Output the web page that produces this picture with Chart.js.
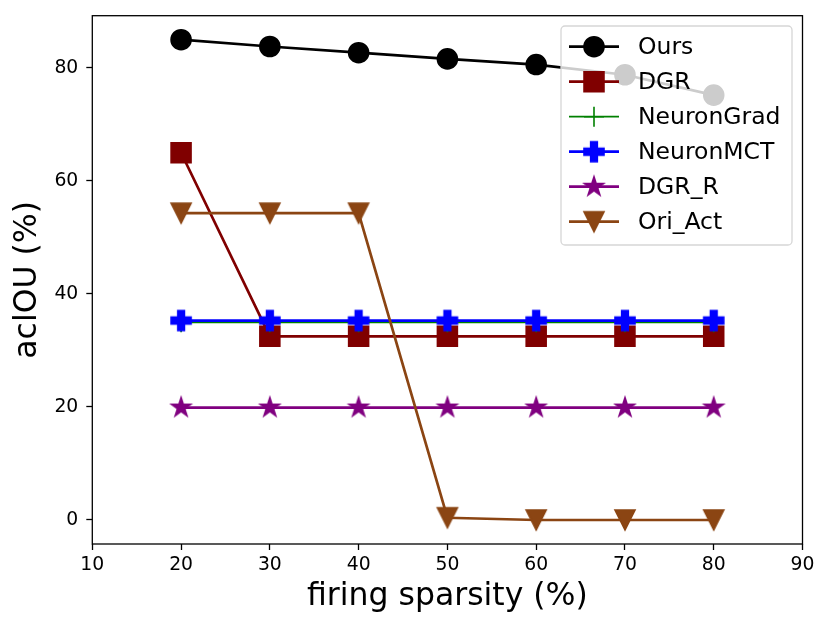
<!DOCTYPE html>
<html>
<head>
<meta charset="utf-8">
<script src="https://cdn.jsdelivr.net/npm/chart.js@4.4.1/dist/chart.umd.min.js"></script>
<style>
  html, body { margin: 0; padding: 0; background: #fff; }
  #wrap { width: 831px; height: 631px; }
</style>
</head>
<body>
<div id="wrap"><canvas id="grafica"></canvas></div>
<script>
// datos
const sparsity   = [20, 30, 40, 50, 60, 70, 80];
const ours       = [85.0, 83.8, 82.7, 81.6, 80.6, 78.8, 75.2];
const dgr        = [65.0, 32.5, 32.5, 32.5, 32.5, 32.5, 32.5];
const neuronGrad = [35.0, 35.0, 35.0, 35.0, 35.0, 35.0, 35.0];
const neuronMCT  = [35.3, 35.3, 35.3, 35.3, 35.3, 35.3, 35.3];
const dgrR       = [19.9, 19.9, 19.9, 19.9, 19.9, 19.9, 19.9];
const oriAct     = [54.3, 54.3, 54.3, 0.4, 0.0, 0.0, 0.0];

const xTicks = [10, 20, 30, 40, 50, 60, 70, 80, 90];
const yTicks = [0, 20, 40, 60, 80];

const FONT = "'DejaVu Sans', sans-serif";

// marcadores rellenos tipo matplotlib (P, *, v)
function marcador(forma, color, size) {
    const pad = 3;
    const c = document.createElement('canvas');
    c.width = c.height = Math.ceil(size + pad * 2);
    const g = c.getContext('2d');
    const m = c.width / 2, h = size / 2;
    let pts = [];
    if (forma === 'plus') {
        const a = h / 3;
        pts = [[-a,-h],[a,-h],[a,-a],[h,-a],[h,a],[a,a],[a,h],[-a,h],[-a,a],[-h,a],[-h,-a],[-a,-a]];
    } else if (forma === 'star') {
        for (let i = 0; i < 10; i++) {
            const r = i % 2 ? h * 0.381966 : h;
            const ang = (-90 + i * 36) * Math.PI / 180;
            pts.push([Math.cos(ang) * r, Math.sin(ang) * r]);
        }
    } else if (forma === 'tri') {
        pts = [[0, h], [-h, -h], [h, -h]];
    }
    g.beginPath();
    pts.forEach((p, i) => i ? g.lineTo(m + p[0], m + p[1]) : g.moveTo(m + p[0], m + p[1]));
    g.closePath();
    g.fillStyle = color;
    g.strokeStyle = color;
    g.lineWidth = 1.6;
    g.lineJoin = 'miter';
    g.fill();
    g.stroke();
    return c;
}

function puntos(ys) {
    return sparsity.map((x, i) => ({ x: x, y: ys[i] }));
}

function serie(label, ys, color, estilo, radio, orden, ancho) {
    return {
        label: label,
        data: puntos(ys),
        borderColor: color,
        backgroundColor: color,
        borderWidth: ancho || 2.7,
        pointStyle: estilo,
        pointRadius: radio,
        pointBorderWidth: 1.6,
        pointBorderColor: color,
        pointBackgroundColor: color,
        tension: 0,
        fill: false,
        order: orden
    };
}

const datasets = [
    serie('Ours', ours, '#000000', 'circle', 10, 6),
    serie('DGR', dgr, '#800000', 'rect', 14.1, 5),
    serie('NeuronGrad', neuronGrad, '#008000', 'cross', 10, 4, 1.8),
    serie('NeuronMCT', neuronMCT, '#0000ff', marcador('plus', '#0000ff', 20), 10, 3),
    serie('DGR_R', dgrR, '#800080', marcador('star', '#800080', 20), 10, 2),
    serie('Ori_Act', oriAct, '#8b4513', marcador('tri', '#8b4513', 20), 10, 1)
];

// marco completo del área de dibujo
const marco = {
    id: 'marco',
    afterDatasetsDraw(chart) {
        const a = chart.chartArea, ctx = chart.ctx;
        ctx.save();
        ctx.strokeStyle = '#000';
        ctx.lineWidth = 1.3;
        ctx.strokeRect(a.left, a.top, a.right - a.left, a.bottom - a.top);
        ctx.restore();
    }
};

// leyenda dentro del gráfico, semitransparente como en matplotlib
const leyenda = {
    id: 'leyenda',
    afterDatasetsDraw(chart) {
        const ctx = chart.ctx;
        const box = { x: 561, y: 26, w: 231, h: 219, r: 4 };
        ctx.save();
        ctx.beginPath();
        ctx.roundRect(box.x, box.y, box.w, box.h, box.r);
        ctx.fillStyle = 'rgba(255,255,255,0.8)';
        ctx.fill();
        ctx.strokeStyle = '#d6d6d6';
        ctx.lineWidth = 1.3;
        ctx.stroke();

        chart.data.datasets.forEach((ds, i) => {
            const y = 46.7 + i * 35;
            ctx.beginPath();
            ctx.moveTo(569, y);
            ctx.lineTo(619, y);
            ctx.strokeStyle = ds.borderColor;
            ctx.lineWidth = ds.borderWidth;
            ctx.stroke();

            ctx.fillStyle = ds.pointBackgroundColor;
            ctx.strokeStyle = ds.pointBorderColor;
            ctx.lineWidth = ds.pointBorderWidth;
            Chart.helpers.drawPoint(ctx, {
                pointStyle: ds.pointStyle,
                radius: ds.pointRadius,
                rotation: 0,
                borderWidth: ds.pointBorderWidth
            }, 594, y);

            ctx.fillStyle = '#000';
            ctx.font = '23.5px ' + FONT;
            ctx.textAlign = 'left';
            ctx.textBaseline = 'middle';
            ctx.fillText(ds.label, 638, y + 1);
        });
        ctx.restore();
    }
};

const ctxGrafica = document.getElementById('grafica');

new Chart(ctxGrafica, {
    type: 'line',
    data: { datasets: datasets },
    options: {
        responsive: true,
        maintainAspectRatio: false,
        animation: false,
        events: [],
        layout: { padding: { top: 14.3, right: 28.5, left: 0, bottom: 0 } },
        plugins: {
            legend: { display: false },
            tooltip: { enabled: false }
        },
        scales: {
            x: {
                type: 'linear',
                min: 10,
                max: 90,
                afterBuildTicks: s => { s.ticks = xTicks.map(v => ({ value: v })); },
                afterFit: s => { s.height = 87; s.paddingLeft = 0; s.paddingRight = 0; },
                border: { display: false },
                grid: { drawOnChartArea: false, drawTicks: true, tickLength: 6, tickColor: '#000', tickWidth: 1.3 },
                ticks: { color: '#000', font: { family: FONT, size: 18.8 }, padding: 4, maxRotation: 0 },
                title: {
                    display: true,
                    text: 'firing sparsity (%)',
                    color: '#000',
                    font: { family: FONT, size: 31.5 },
                    padding: { top: 0, bottom: 15 }
                }
            },
            y: {
                type: 'linear',
                min: -4.25,
                max: 89.25,
                afterBuildTicks: s => { s.ticks = yTicks.map(v => ({ value: v })); },
                afterFit: s => { s.width = 92.3; s.paddingTop = 0; s.paddingBottom = 0; },
                border: { display: false },
                grid: { drawOnChartArea: false, drawTicks: true, tickLength: 6, tickColor: '#000', tickWidth: 1.3 },
                ticks: { color: '#000', font: { family: FONT, size: 18.8 }, padding: 8 },
                title: {
                    display: true,
                    text: 'aclOU (%)',
                    color: '#000',
                    font: { family: FONT, size: 31.5 },
                    padding: { top: 9, bottom: 0 }
                }
            }
        }
    },
    plugins: [marco, leyenda]
});
</script>
</body>
</html>
